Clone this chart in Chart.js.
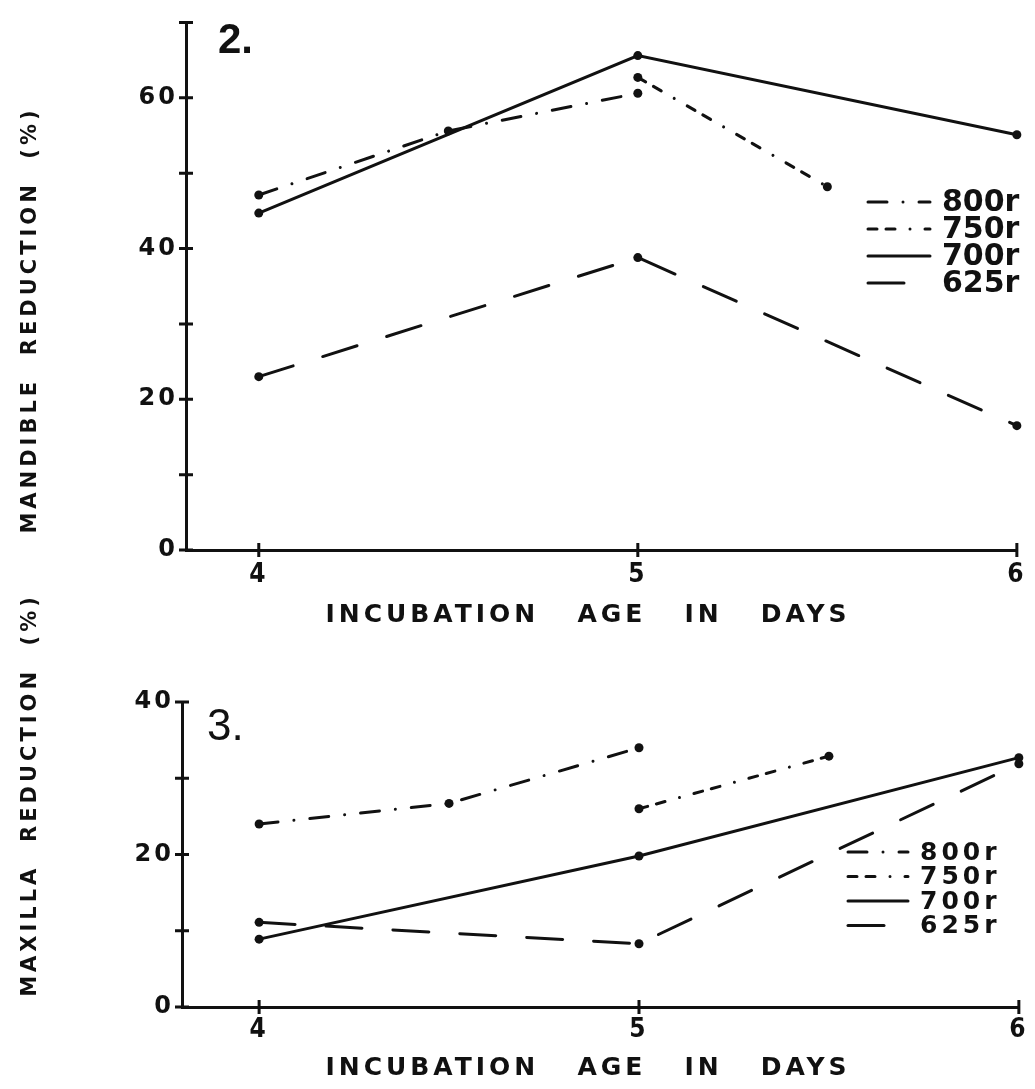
<!DOCTYPE html>
<html>
<head>
<meta charset="utf-8">
<script src="https://cdn.jsdelivr.net/npm/chart.js@4.4.1/dist/chart.umd.min.js"></script>
<style>
  html, body { margin: 0; padding: 0; background: #fff; }
  #wrap { position: relative; width: 1035px; height: 1089px; }
  .panel { position: absolute; left: 0; }
  #panel2 { top: 0; }
  #panel3 { top: 560px; }
</style>
</head>
<body>
<div id="wrap">
  <div class="panel" id="panel2"><canvas id="mandible" width="1035" height="640"></canvas></div>
  <div class="panel" id="panel3"><canvas id="maxilla" width="1035" height="529"></canvas></div>
</div>
<script>
(function () {
    "use strict";

    // Doses, in legend order
    var doses = ["800r", "750r", "700r", "625r"];

    // Fig. 2 - mandible reduction (%)
    var mand800Days = [4, 4.5, 5];
    var mand800 = [47.1, 55.6, 60.6];
    var mand750Days = [5, 5.5];
    var mand750 = [62.7, 48.2];
    var mand700Days = [4, 5, 6];
    var mand700 = [44.7, 65.6, 55.1];
    var mand625Days = [4, 5, 6];
    var mand625 = [23.0, 38.8, 16.5];

    // Fig. 3 - maxilla reduction (%)
    var max800Days = [4, 4.5, 5];
    var max800 = [24.0, 26.7, 34.0];
    var max750Days = [5, 5.5];
    var max750 = [26.0, 32.9];
    var max700Days = [4, 5, 6];
    var max700 = [8.9, 19.8, 32.7];
    var max625Days = [4, 5, 6];
    var max625 = [11.1, 8.3, 31.9];

    // Ticks
    var dayTicks = [4, 5, 6];
    var mandTicks = [0, 10, 20, 30, 40, 50, 60, 70];
    var mandLabels = [0, 20, 40, 60];
    var maxTicks = [0, 10, 20, 30, 40];
    var maxLabels = [0, 20, 40];

    var ink = "#111";

    // line style per dose
    var dashes = {
        "800r": [19, 16, 0.01, 16],
        "750r": [9, 9, 9, 15, 0.01, 15],
        "700r": [],
        "625r": [36, 31]
    };

    function pts(days, vals) {
        return days.map(function (d, i) { return {x: d, y: vals[i]}; });
    }

    function series(label, days, vals) {
        return {
            label: label,
            data: pts(days, vals),
            borderColor: ink,
            borderWidth: 3,
            borderDash: dashes[label],
            borderCapStyle: "round",
            tension: 0,
            fill: false,
            pointRadius: 4.5,
            pointHoverRadius: 4.5,
            pointBackgroundColor: ink,
            pointBorderWidth: 0,
            clip: false
        };
    }

    // ticks across the axes, titles, panel number, legend
    var decor = {
        id: "decor",
        beforeDraw: function (chart) {
            chart.ctx.letterSpacing = "3px";
        },
        afterDraw: function (chart, args, o) {
            var ctx = chart.ctx, area = chart.chartArea;
            var xs = chart.scales.x, ys = chart.scales.y;
            ctx.save();
            ctx.strokeStyle = ink;
            ctx.fillStyle = ink;
            ctx.lineWidth = 3;
            ctx.setLineDash([]);
            ctx.lineCap = "butt";
            ctx.beginPath();
            ys.ticks.forEach(function (t) {
                var py = ys.getPixelForValue(t.value);
                ctx.moveTo(area.left - 7, py);
                ctx.lineTo(area.left + 7, py);
            });
            xs.ticks.forEach(function (t) {
                var px = xs.getPixelForValue(t.value);
                ctx.moveTo(px, area.bottom - 7);
                ctx.lineTo(px, area.bottom + 7);
            });
            ctx.stroke();

            // panel number
            ctx.letterSpacing = "0px";
            ctx.textAlign = "left";
            ctx.textBaseline = "alphabetic";
            ctx.font = o.tagFont;
            ctx.fillText(o.tag, o.tagX, o.tagY);

            // axis titles
            ctx.letterSpacing = "4px";
            ctx.font = "bold 25px 'DejaVu Sans'";
            ctx.textAlign = "center";
            ctx.textBaseline = "middle";
            ctx.fillText(o.xTitle, o.xTitleX, o.xTitleY);
            ctx.save();
            ctx.translate(o.yTitleX, o.yTitleY);
            ctx.rotate(-Math.PI / 2);
            ctx.font = "bold 21px 'DejaVu Sans'";
            ctx.fillText(o.yTitle, 0, 0);
            ctx.restore();

            // legend
            ctx.font = o.legendFont;
            ctx.letterSpacing = o.legendSpacing;
            ctx.textAlign = "left";
            chart.data.datasets.forEach(function (ds, i) {
                var y = o.legendY + i * o.legendGap;
                ctx.setLineDash(ds.borderDash);
                ctx.lineCap = "round";
                ctx.beginPath();
                ctx.moveTo(o.legendX, y);
                ctx.lineTo(o.legendX + o.legendLen, y);
                ctx.stroke();
                ctx.setLineDash([]);
                ctx.fillText(ds.label, o.legendX + o.legendLen + 12, y + 1);
            });
            ctx.restore();
        }
    };

    function makeChart(id, datasets, cfg) {
        var ctx = document.getElementById(id).getContext("2d");
        return new Chart(ctx, {
            type: "line",
            data: {datasets: datasets},
            options: {
                responsive: false,
                devicePixelRatio: 1,
                animation: false,
                events: [],
                layout: {padding: {top: cfg.padTop, right: 16, bottom: 0, left: 0}},
                scales: {
                    x: {
                        type: "linear",
                        min: cfg.xMin,
                        max: 6,
                        afterFit: function (s) { s.height = cfg.xHeight; },
                        afterBuildTicks: function (s) {
                            s.ticks = dayTicks.map(function (v) { return {value: v}; });
                        },
                        grid: {display: false, drawTicks: false},
                        border: {display: true, color: ink, width: 3},
                        ticks: {
                            color: ink,
                            padding: cfg.xPad,
                            maxRotation: 0,
                            autoSkip: false,
                            font: {family: "'DejaVu Sans Condensed'", weight: "bold", size: 26}
                        }
                    },
                    y: {
                        min: 0,
                        max: cfg.yMax,
                        afterFit: function (s) { s.width = cfg.yWidth; },
                        afterBuildTicks: function (s) {
                            s.ticks = cfg.yTicks.map(function (v) { return {value: v}; });
                        },
                        grid: {display: false, drawTicks: false},
                        border: {display: true, color: ink, width: 3},
                        ticks: {
                            color: ink,
                            padding: 8,
                            autoSkip: false,
                            font: {family: "'DejaVu Sans'", weight: "bold", size: 24},
                            callback: function (v) {
                                return cfg.yLabels.indexOf(v) >= 0 ? String(v) : "";
                            }
                        }
                    }
                },
                plugins: {
                    legend: {display: false},
                    tooltip: {enabled: false},
                    decor: cfg.decor
                }
            },
            plugins: [decor]
        });
    }

    makeChart("mandible", [
        series(doses[0], mand800Days, mand800),
        series(doses[1], mand750Days, mand750),
        series(doses[2], mand700Days, mand700),
        series(doses[3], mand625Days, mand625)
    ], {
        padTop: 10, xMin: 3.808, xHeight: 90, xPad: 10, yWidth: 186, yMax: 70,
        yTicks: mandTicks, yLabels: mandLabels,
        decor: {
            tag: "2.", tagFont: "bold 42px 'Liberation Sans'", tagX: 218, tagY: 53,
            xTitle: "INCUBATION   AGE   IN   DAYS", xTitleX: 588, xTitleY: 615,
            yTitle: "MANDIBLE  REDUCTION  (%)", yTitleX: 31, yTitleY: 320,
            legendX: 868, legendY: 202, legendGap: 27, legendLen: 62,
            legendFont: "bold 30px 'DejaVu Sans'", legendSpacing: "0px"
        }
    });

    // transparent canvas laid over the lower part of the first one
    makeChart("maxilla", [
        series(doses[0], max800Days, max800),
        series(doses[1], max750Days, max750),
        series(doses[2], max700Days, max700),
        series(doses[3], max625Days, max625)
    ], {
        padTop: 142, xMin: 3.797, xHeight: 82, xPad: 8, yWidth: 182, yMax: 40,
        yTicks: maxTicks, yLabels: maxLabels,
        decor: {
            tag: "3.", tagFont: "44px 'Liberation Sans'", tagX: 207, tagY: 180,
            xTitle: "INCUBATION   AGE   IN   DAYS", xTitleX: 588, xTitleY: 508,
            yTitle: "MAXILLA  REDUCTION  (%)", yTitleX: 31, yTitleY: 235,
            legendX: 848, legendY: 292, legendGap: 24.5, legendLen: 60,
            legendFont: "bold 25px 'DejaVu Sans'", legendSpacing: "4px"
        }
    });
})();
</script>
</body>
</html>
